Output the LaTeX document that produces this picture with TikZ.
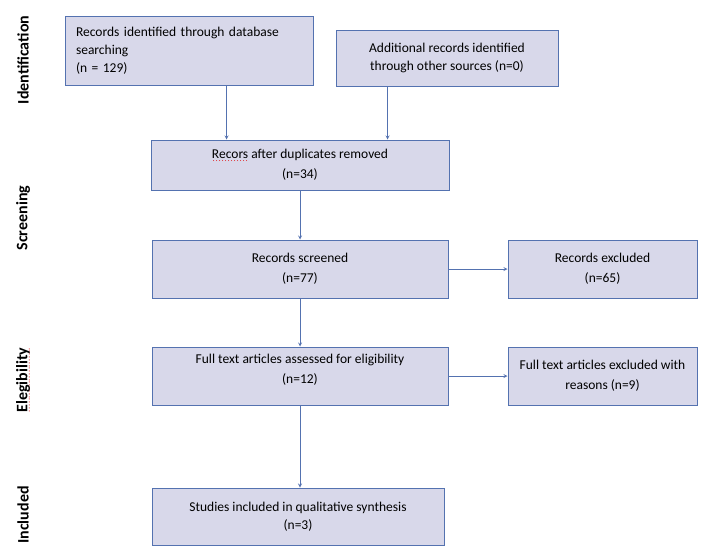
\documentclass[tikz,border=0pt]{standalone}
\usepackage{fontspec}
\setmainfont{Carlito}
\usetikzlibrary{arrows,positioning}
\definecolor{prblue}{RGB}{84,114,176}
\definecolor{prfill}{RGB}{216,216,234}
\definecolor{prred}{RGB}{225,30,30}
\tikzstyle{stagebox} = [draw=prblue, fill=prfill, line width=1pt, align=center, inner sep=0pt, font=\fontsize{13.5}{20}\selectfont]
\tikzstyle{arrow} = [->,>=stealth,color=prblue,line width=0.8pt]
\tikzstyle{phase} = [rotate=90, font=\fontsize{16}{18}\selectfont\bfseries]
\newcommand{\typo}[1]{\setbox0\hbox{#1}\rlap{\textcolor{prred}{\raisebox{-2.5pt}{\hbox to \wd0{\xleaders\hbox to 2.8pt{\hss\fontsize{8.5}{8}\selectfont\mdseries.\hss}\hfill}}}}#1}

\begin{document}
\begin{tikzpicture}[x=1pt,y=-1pt]
\useasboundingbox (0,0) rectangle (710,552);

% Phases
\node[phase] (ident) at (23,60) {Identification};
\node[phase] (screen) at (23,218) {Screening};
\node[phase] (elig) at (23,380) {\typo{Elegibility}};
\node[phase] (incl) at (23,515) {Included};

% Boxes
\node[stagebox, minimum height=69pt, text width=226pt, align=left, inner xsep=11pt, font=\fontsize{13.5}{18}\selectfont] (dbase) at (189,50.5) {Records identified through database\\searching\\(n = 129)};
\node[stagebox, minimum width=222pt, minimum height=56pt, font=\fontsize{13.5}{18}\selectfont] (other) at (447,58) {Additional records identified\\through other sources (n=0)};
\node[stagebox, minimum width=298pt, minimum height=50pt] (dedup) at (300,165) {\typo{Recors} after duplicates removed\\(n=34)};
\node[stagebox, minimum width=296pt, minimum height=58pt] (screened) at (300,269) {Records screened\\(n=77)};
\node[stagebox, minimum width=189pt, minimum height=58pt] (excl) at (602.5,269) {Records excluded\\(n=65)};
\node[stagebox, minimum width=296pt, minimum height=58pt] (full) at (300,376) {Full text articles assessed for eligibility\\(n=12)\\[-6pt]\mbox{}};
\node[stagebox, minimum width=189pt, minimum height=58pt] (fullexcl) at (602.5,376) {Full text articles excluded with\\reasons (n=9)};
\node[stagebox, minimum width=292pt, minimum height=57pt, font=\fontsize{13.5}{18}\selectfont] (studies) at (298,516.5) {Studies included in qualitative synthesis\\(n=3)};

% Arrows
\draw[arrow] ([xshift=-87pt]dbase.south east) -- ([xshift=-87pt]dbase.south east |- dedup.north);
\draw[arrow] ([xshift=52pt]other.south west) -- ([xshift=52pt]other.south west |- dedup.north);
\draw[arrow] (dedup.south) -- (screened.north);
\draw[arrow] (screened.east) -- (excl.west);
\draw[arrow] (screened.south) -- (full.north);
\draw[arrow] (full.east) -- (fullexcl.west);
\draw[arrow] (full.south) -- (full.south |- studies.north);
\end{tikzpicture}
\end{document}
